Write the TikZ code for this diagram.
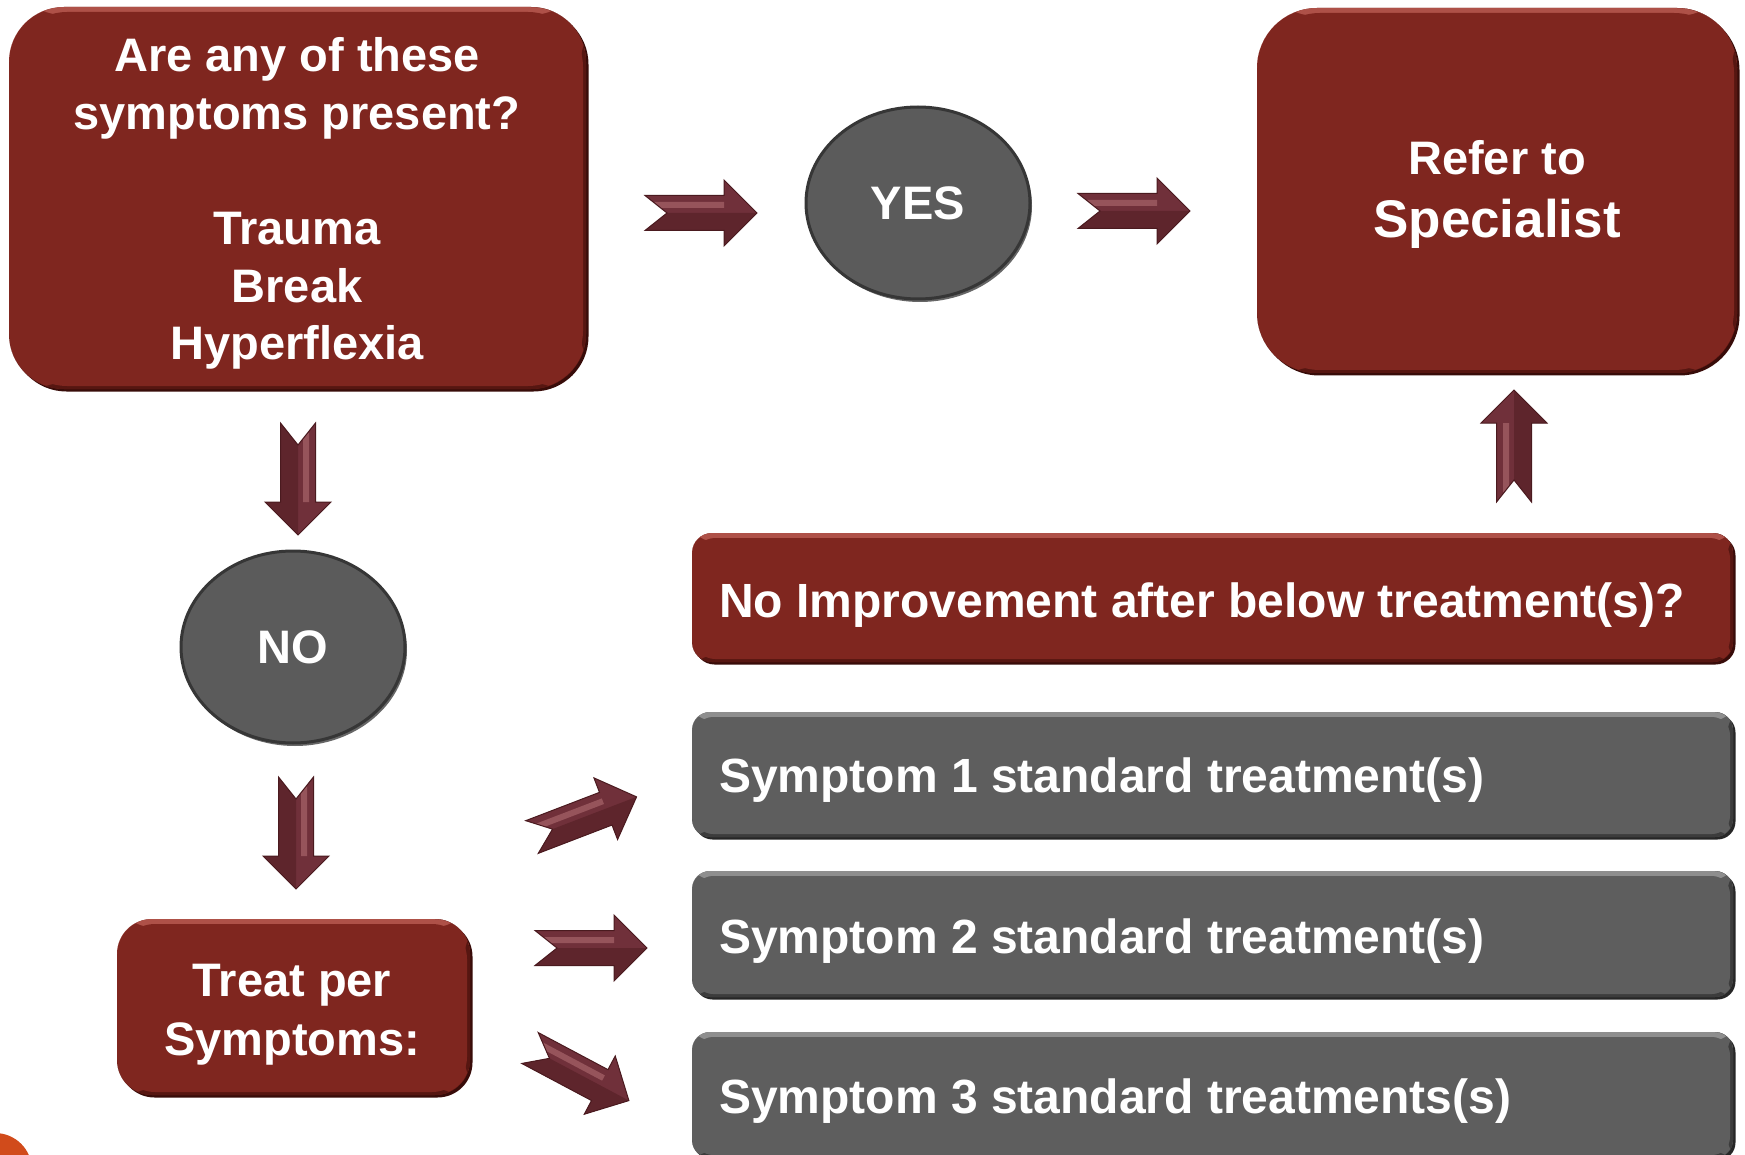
\documentclass[tikz,border=0pt]{standalone}
\usepackage{fontspec}
\setmainfont{Liberation Sans}
\usetikzlibrary{shapes.geometric,shadows}

\definecolor{boxred}{HTML}{7F261F}
\definecolor{boxredhi}{HTML}{AE5148}
\definecolor{boxredlo}{HTML}{561611}
\definecolor{boxredsh}{HTML}{380C09}
\definecolor{bargray}{HTML}{5E5E5E}
\definecolor{bargrayhi}{HTML}{8E8E8E}
\definecolor{bargraylo}{HTML}{3C3C3C}
\definecolor{bargraysh}{HTML}{262626}
\definecolor{ovalgray}{HTML}{5B5B5B}
\definecolor{ovalrim}{HTML}{363636}
\definecolor{arrbase}{HTML}{70303A}
\definecolor{arrlow}{HTML}{5E252C}
\definecolor{arrhi}{HTML}{96545B}
\definecolor{arredge}{HTML}{4A1A1F}
\definecolor{accent}{HTML}{D14B1B}

\tikzset{
  % rounded panel with a light top rim and a dark lower/right rim
  bevel/.style n args={4}{
    rounded corners=#1, fill=#2, draw=none, inner sep=0pt,
    path picture={
      \fill[#3] (path picture bounding box.north west) rectangle ([yshift=-8pt]path picture bounding box.north east);
      \fill[#4] ([yshift=6pt]path picture bounding box.south west) rectangle (path picture bounding box.south east);
      \fill[#4] ([xshift=-5pt]path picture bounding box.north east) rectangle (path picture bounding box.south east);
      \fill[#2, rounded corners=#1] ([shift={(3pt,-5pt)}]path picture bounding box.north west) rectangle ([shift={(-3pt,3pt)}]path picture bounding box.south east);
    }},
  redbox/.style={bevel={#1}{boxred}{boxredhi}{boxredlo},
    drop shadow={shadow xshift=2.5pt, shadow yshift=-2.5pt, fill=boxredsh, opacity=1}},
  graybar/.style={bevel={18pt}{bargray}{bargrayhi}{bargraylo},
    drop shadow={shadow xshift=2.5pt, shadow yshift=-2.5pt, fill=bargraysh, opacity=1}},
  oval/.style={ellipse, fill=ovalgray, draw=ovalrim, line width=3pt, inner sep=0pt,
    minimum width=224pt, minimum height=192pt, text=white,
    font=\fontsize{47}{56}\selectfont\bfseries,
    drop shadow={shadow xshift=2pt, shadow yshift=-3pt, fill=black!75, opacity=0.8}},
  lbl/.style={text=white, inner sep=0pt, font=\fontsize{47}{57.6}\selectfont\bfseries},
  barlbl/.style={lbl, anchor=base west, font=\fontsize{48}{57.6}\selectfont\bfseries},
  % bevelled chevron arrow, 112 units long, pointing along +x
  barrow/.pic={
    \fill[arrbase] (0,-17.5) -- (79,-17.5) -- (79,-33) -- (112,0) -- (79,33) -- (79,17.5) -- (0,17.5) -- (22,0) -- cycle;
    \fill[arrlow] (22,0) -- (112,0) -- (79,33) -- (79,17.5) -- (0,17.5) -- cycle;
    \fill[arrhi] (9,-11) -- (79,-11) -- (79,-5) -- (16,-5) -- cycle;
    \draw[arredge, line width=1pt, line join=miter] (0,-17.5) -- (79,-17.5) -- (79,-33) -- (112,0) -- (79,33) -- (79,17.5) -- (0,17.5) -- (22,0) -- cycle;
  },
}

\begin{document}
\begin{tikzpicture}[x=1pt, y=-1pt]
  \useasboundingbox (0,0) rectangle (1745,1155);
  \fill[white] (0,0) rectangle (1745,1155);

  % corner accent
  \node[circle, fill=accent, minimum size=74pt, inner sep=0pt] (corner) at (-5,1170) {};

  % question panel
  \node[redbox=55pt, minimum width=577pt, minimum height=382pt] (q) at (297.5,198) {};
  \node[lbl, align=center] (qtext) at (297,203.5)
    {Are any of these\\symptoms present?\\[57.6pt]Trauma\\Break\\Hyperflexia};

  % decisions
  \node[oval] (yes) at (918,203) {YES};
  \node[oval] (no) at (293,647) {NO};

  % referral panel
  \node[redbox=60pt, minimum width=480pt, minimum height=365pt] (refer) at (1497,190.5) {};
  \node[lbl, anchor=base] (refer1) at (1497,175) {Refer to};
  \node[lbl, anchor=base, font=\fontsize{53}{60}\selectfont\bfseries] (refer2) at (1497,238) {Specialist};

  % treatment panel
  \node[redbox=35pt, minimum width=353pt, minimum height=176pt] (treat) at (293.5,1007) {};
  \node[lbl, align=center, font=\fontsize{47}{59}\selectfont\bfseries] (treattext) at (292,1014.5)
    {Treat per\\Symptoms:};

  % bars on the right
  \node[redbox=20pt, minimum width=1041pt, minimum height=129pt] (noimp) at (1212.5,597.5) {};
  \node[barlbl] (noimptext) at (719,617) {No Improvement after below treatment(s)?};

  \node[graybar, minimum width=1041pt, minimum height=125pt] (s1) at (1212.5,774.5) {};
  \node[barlbl] (s1text) at (719,792) {Symptom 1 standard treatment(s)};

  \node[graybar, minimum width=1041pt, minimum height=126pt] (s2) at (1212.5,934) {};
  \node[barlbl] (s2text) at (719,953) {Symptom 2 standard treatment(s)};

  \node[graybar, minimum width=1041pt, minimum height=126pt] (s3) at (1212.5,1095) {};
  \node[barlbl] (s3text) at (719,1113) {Symptom 3 standard treatments(s)};

  % arrow tails
  \coordinate (q-yes) at (645,213);
  \coordinate (yes-refer) at (1078,211);
  \coordinate (q-no) at (298,423);
  \coordinate (no-treat) at (296,777);
  \coordinate (noimp-refer) at (1514,502);
  \coordinate (treat-s1) at (532,837);
  \coordinate (treat-s2) at (535,948);
  \coordinate (treat-s3) at (530,1048);

  \pic at (q-yes) {barrow};
  \pic at (yes-refer) {barrow};
  \pic[rotate=-90] at (q-no) {barrow};
  \pic[rotate=-90] at (no-treat) {barrow};
  \pic[rotate=90] at (noimp-refer) {barrow};
  \pic[rotate=21] at (treat-s1) {barrow};
  \pic at (treat-s2) {barrow};
  \pic[rotate=-28] at (treat-s3) {barrow};
\end{tikzpicture}
\end{document}
